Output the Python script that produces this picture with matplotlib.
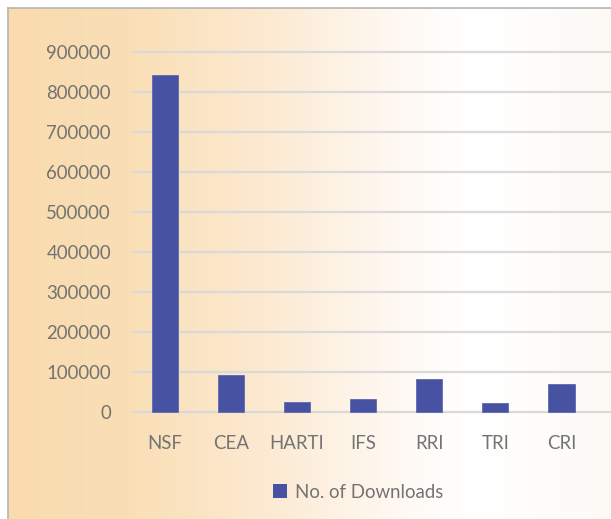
import numpy as np
import matplotlib
matplotlib.use("Agg")
import matplotlib.pyplot as plt
from matplotlib.colors import LinearSegmentedColormap
from matplotlib.patches import Patch

categories = ["NSF", "CEA", "HARTI", "IFS", "RRI", "TRI", "CRI"]
downloads = [841000, 92500, 23500, 31000, 82500, 21700, 70000]
yticks = [0, 100000, 200000, 300000, 400000, 500000, 600000, 700000, 800000, 900000]
series_name = "No. of Downloads"

W, H = 611, 519
DPI = 100
plt.rcParams['font.family'] = ['Lato', 'DejaVu Sans']
fig = plt.figure(figsize=(W / DPI, H / DPI), dpi=DPI)
fig.patch.set_facecolor('white')

# background gradient (chart area)
bx0 = 8 / W
by1 = (H - 8) / H
bg = fig.add_axes([bx0, 0, 1 - bx0, by1])
stops = [(0.0, '#F9DBAE'), (0.2, '#FADFB6'), (0.42, '#FCE9D0'), (0.6, '#FEF6EC'),
         (0.72, '#FFFDFB'), (0.78, '#FFFFFF'), (1.0, '#FDFAF6')]
cmap = LinearSegmentedColormap.from_list('bg', stops)
grad = np.linspace(0, 1, 512).reshape(1, -1)
bg.imshow(grad, aspect='auto', cmap=cmap, extent=[0, 1, 0, 1], interpolation='bilinear')
bg.set_xlim(0, 1)
bg.set_ylim(0, 1)
bg.set_xticks([])
bg.set_yticks([])
for s in ['right', 'bottom']:
    bg.spines[s].set_visible(False)
for s in ['left', 'top']:
    bg.spines[s].set_color('#B4B4B4')
    bg.spines[s].set_linewidth(1.2)
bg.set_zorder(0)

# main axes
px_left = 131.7
cat_w = 66.1
y0_px, y9_px = 411.7, 51.7
ppu = (y0_px - y9_px) / 900000.0
ymin, ymax = -12000, 912000
top_px = y9_px - (ymax - 900000) * ppu
bot_px = y0_px + (0 - ymin) * ppu
ax = fig.add_axes([px_left / W, (H - bot_px) / H, (W - px_left) / W, (bot_px - top_px) / H])
ax.set_facecolor('none')
ax.set_zorder(1)
x = np.arange(len(categories))
ax.bar(x, downloads, width=0.4, color='#4753A2', edgecolor='#5E69B0', linewidth=0.6, zorder=3)
ax.set_xlim(-0.5, -0.5 + (W - px_left) / cat_w)
ax.set_ylim(ymin, ymax)
ax.set_yticks(yticks)
ax.set_yticklabels([str(v) for v in yticks])
ax.set_xticks(x)
ax.set_xticklabels(categories)
ax.yaxis.grid(True, color='#D9D9D9', linewidth=1.6, zorder=0)
ax.set_axisbelow(True)
for s in ax.spines.values():
    s.set_visible(False)
ax.tick_params(axis='both', length=0, labelcolor='#737373', labelsize=13.4)
ax.tick_params(axis='y', pad=15)
ax.tick_params(axis='x', pad=13)

# legend
handle = Patch(facecolor='#4753A2', edgecolor='none')
fig.legend([handle], [series_name], loc='center', bbox_to_anchor=(358 / W, 1 - 492 / H),
           frameon=False, fontsize=13.4, labelcolor='#737373', handlelength=0.75,
           handleheight=0.75, handletextpad=0.4)

fig.savefig('out.png', dpi=DPI)
